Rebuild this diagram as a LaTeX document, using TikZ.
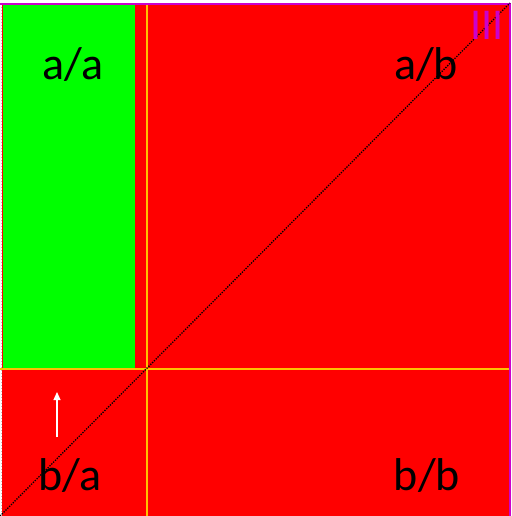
\documentclass[tikz,border=0pt]{standalone}
\usepackage{fontspec}
\setmainfont{Carlito}
\usetikzlibrary{arrows.meta}
\definecolor{pgreen}{RGB}{0,255,0}
\definecolor{pred}{RGB}{255,0,0}
\definecolor{porange}{RGB}{255,192,0}
\definecolor{pmag}{RGB}{204,0,204}
\tikzset{
  lbl/.style={font=\fontsize{46}{46}\selectfont, text=black, inner sep=0pt},
  divider/.style={draw=porange, line width=2.5pt},
}
\begin{document}
\begin{tikzpicture}[x=1pt,y=-1pt]
\useasboundingbox (0,0) rectangle (511,516);
\fill[white] (0,0) rectangle (511,516);
\fill[pred] (2,4) rectangle (509,516);
\fill[pgreen] (3,5) rectangle (135,368);
\draw[gray!50, dotted, line width=1pt] (1,4) -- (1,516);
\draw[pmag, line width=2pt] (0,4) -- (511,4);
\draw[pmag, line width=2pt] (509.5,3) -- (509.5,516);
\coordinate (vtop) at (147,5);
\coordinate (vbot) at (147,516);
\coordinate (hl) at (0,369);
\coordinate (hr) at (509,369);
\draw[divider] (vtop) -- (vbot);
\draw[divider] (hl) -- (hr);
\coordinate (dstart) at (0,516);
\coordinate (dend) at (510,3);
\draw[black, line width=1.3pt, dash pattern=on 1.3pt off 1.3pt] (dstart) -- (dend);
\node[lbl] (aa) at (73,65) {a/a};
\node[lbl] (ab) at (426,65) {a/b};
\node[lbl] (ba) at (70,476) {b/a};
\node[lbl] (bb) at (427,476) {b/b};
\node[font=\fontsize{44}{44}\selectfont, text=pmag, inner sep=0pt] (iii) at (487,25) {III};
\coordinate (arrbot) at (57,437);
\coordinate (arrtop) at (57,392);
\draw[white, line width=1.2pt, -{Triangle[length=8pt,width=7pt]}] (arrbot) -- (arrtop);
\end{tikzpicture}
\end{document}
